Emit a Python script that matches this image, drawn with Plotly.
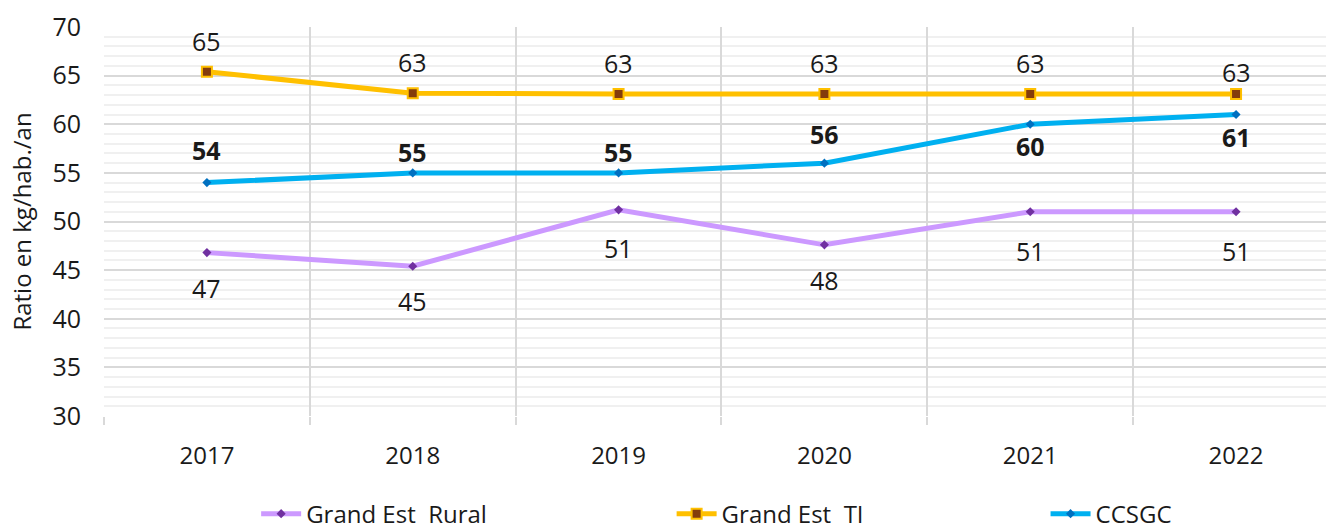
import plotly.graph_objects as go

years = ["2017", "2018", "2019", "2020", "2021", "2022"]
rural = [46.8, 45.4, 51.2, 47.6, 51.0, 51.0]
ti = [65.4, 63.2, 63.1, 63.1, 63.1, 63.1]
ccsgc = [54.0, 55.0, 55.0, 56.0, 60.0, 61.0]
series_names = ["Grand Est\u00a0\u00a0Rural", "Grand Est\u00a0\u00a0TI", "CCSGC"]
y_title = "Ratio en kg/hab./an"

FONT = "Open Sans"
TXT = "#1a1a1a"

fig = go.Figure()
fig.add_trace(go.Scatter(
    x=years, y=rural, name=series_names[0], mode="lines+markers",
    line=dict(color="#cc99ff", width=5),
    marker=dict(symbol="diamond", size=7, color="#7030a0"),
    legend="legend"))
fig.add_trace(go.Scatter(
    x=years, y=ti, name=series_names[1], mode="lines+markers",
    line=dict(color="#ffc000", width=5),
    marker=dict(symbol="square", size=10, color="#843c0c",
                line=dict(color="#ffc000", width=2)),
    legend="legend2"))
fig.add_trace(go.Scatter(
    x=years, y=ccsgc, name=series_names[2], mode="lines+markers",
    line=dict(color="#00b0f0", width=5),
    marker=dict(symbol="diamond", size=7, color="#0070c0"),
    legend="legend3"))

# data labels (x given as category index)
rural_shift = [-35, -35, -38, -35, -39, -39]
ti_shift = [31, 31, 31, 31, 31, 22]
cc_shift = [33, 21, 21, 29, -22, -22]
for i, yr in enumerate(years):
    fig.add_annotation(x=i, y=rural[i], xref="x", yref="y", text=f"{rural[i]:.0f}",
                       showarrow=False, yshift=rural_shift[i],
                       font=dict(family=FONT, size=25, color=TXT))
    fig.add_annotation(x=i, y=ti[i], xref="x", yref="y", text=f"{ti[i]:.0f}",
                       showarrow=False, yshift=ti_shift[i],
                       font=dict(family=FONT, size=25, color=TXT))
    fig.add_annotation(x=i, y=ccsgc[i], xref="x", yref="y", text=f"<b>{ccsgc[i]:.0f}</b>",
                       showarrow=False, yshift=cc_shift[i],
                       font=dict(family=FONT, size=25, color=TXT))

legend_common = dict(orientation="h", yanchor="middle", y=-0.252, xanchor="left",
                     font=dict(family=FONT, size=24, color=TXT),
                     bgcolor="rgba(0,0,0,0)", itemwidth=40,
                     tracegroupgap=0)

fig.update_layout(
    width=1326, height=531,
    margin=dict(l=104, r=0, t=27, b=115, autoexpand=False),
    paper_bgcolor="white", plot_bgcolor="white",
    font=dict(family=FONT, size=24, color=TXT),
    showlegend=True,
    legend=dict(x=0.1245, **legend_common),
    legend2=dict(x=0.4645, **legend_common),
    legend3=dict(x=0.7705, **legend_common),
    xaxis=dict(type="category", range=[-0.5, 5.437], tickson="boundaries",
               automargin=False,
               showgrid=True, gridcolor="#d9d9d9", gridwidth=2,
               ticks="outside", ticklen=8, tickcolor="#d9d9d9", tickwidth=2,
               ticklabelstandoff=23, showline=False, zeroline=False,
               tickfont=dict(family=FONT, size=24, color=TXT)),
    yaxis=dict(range=[30, 70], dtick=5, tick0=30, showgrid=True, automargin=False,
               gridcolor="#d9d9d9", gridwidth=2, zeroline=False, showline=False,
               ticks="", ticklabelstandoff=22,
               minor=dict(dtick=1, showgrid=True, gridcolor="#f0f0f0", gridwidth=2),
               tickfont=dict(family=FONT, size=25, color=TXT),
               title=dict(text=y_title, font=dict(family=FONT, size=24, color=TXT),
                          standoff=14)),
)

fig.write_html("out.html", config={"displayModeBar": False},
               post_script="document.body.style.margin='0';document.body.style.overflow='hidden';")
